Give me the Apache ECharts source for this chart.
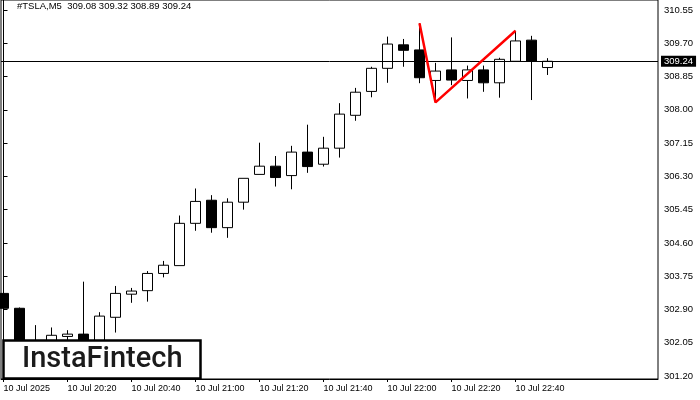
<!DOCTYPE html>
<html><head><meta charset="utf-8">
<script src="https://cdn.jsdelivr.net/npm/echarts@6/dist/echarts.min.js"></script>
<style>html,body{margin:0;padding:0;background:#fff}#c{width:700px;height:400px}</style>
</head><body><div id="c"></div>
<script>
const headerText = '#TSLA,M5  309.08 309.32 308.89 309.24';
const times = ['20:00','20:05','20:10','20:15','20:20','20:25','20:30','20:35','20:40','20:45',
  '20:50','20:55','21:00','21:05','21:10','21:15','21:20','21:25','21:30','21:35',
  '21:40','21:45','21:50','21:55','22:00','22:05','22:10','22:15','22:20','22:25',
  '22:30','22:35','22:40','22:45','22:50'];
const openV  = [303.31,302.93,301.85,302.05,302.21,302.27,301.95,302.70,303.29,303.38,
  303.82,304.02,305.10,305.69,304.99,305.64,306.35,306.56,306.32,306.92,
  306.61,307.02,307.86,308.47,309.06,309.66,309.53,308.75,309.02,308.75,
  309.02,308.69,309.24,309.78,309.08];
const highV  = [303.61,302.95,302.50,302.44,302.37,303.61,302.83,303.50,303.45,303.88,
  304.14,305.30,305.99,305.82,305.74,306.25,307.16,306.82,307.08,307.62,
  307.31,308.17,308.56,309.10,309.87,309.81,310.21,309.20,309.85,309.13,
  309.13,309.33,310.02,309.89,309.32];
const lowV   = [302.37,301.70,301.65,301.95,302.05,301.80,301.85,302.31,303.07,303.10,
  303.72,304.02,304.91,304.86,304.73,305.45,306.35,306.04,305.97,306.39,
  306.55,306.78,307.72,308.32,308.69,309.10,308.68,308.19,308.63,308.29,
  308.46,308.31,309.24,308.25,308.89];
const closeV = [302.93,301.80,301.95,302.24,302.27,301.90,302.73,303.31,303.37,303.82,
  304.03,305.10,305.66,304.99,305.64,306.25,306.56,306.27,306.92,306.55,
  307.02,307.89,308.45,309.06,309.68,309.52,308.82,308.99,308.76,309.02,
  308.69,309.29,309.76,309.24,309.24];
const xTickIdx = [0,4,8,12,16,20,24,28,32];
const xTickLabels = ['10 Jul 2025','10 Jul 20:20','10 Jul 20:40','10 Jul 21:00','10 Jul 21:20',
  '10 Jul 21:40','10 Jul 22:00','10 Jul 22:20','10 Jul 22:40'];
const yTicks = [301.20,302.05,302.90,303.75,304.60,305.45,306.30,307.15,308.00,308.85,309.70,310.55];
const lastPrice = 309.24;
const patternIdx = [26,27,32];
const patternVal = [310.21,308.19,310.02];

const chart = echarts.init(document.getElementById('c'), null, {renderer:'canvas'});
const FONT = 'Liberation Sans';
chart.setOption({
  animation: false,
  backgroundColor: '#fff',
  title: {text: headerText, left: 17, top: 1, padding: 0,
    textStyle: {fontSize: 9.5, fontWeight: 'normal', fontFamily: FONT, color: '#000'}},
  grid: {left: 1, right: 42, top: 0, bottom: 21, show: true, borderColor: '#000', borderWidth: 1, backgroundColor: '#fff'},
  xAxis: {
    type: 'value', min: -0.15625, max: 40.90625,
    axisLine: {show: true, onZero: false, lineStyle: {color: '#000', width: 1}},
    axisTick: {show: true, customValues: xTickIdx, length: 3, lineStyle: {color: '#000'}},
    axisLabel: {customValues: xTickIdx, formatter: v => xTickLabels[xTickIdx.indexOf(Math.round(v))] || '',
      align: 'left', margin: 5, fontSize: 9, fontFamily: FONT, color: '#000'},
    splitLine: {show: false}
  },
  yAxis: {
    type: 'value', position: 'right', min: 301.1233, max: 310.8055,
    axisLine: {show: true, lineStyle: {color: '#000', width: 1}},
    axisTick: {show: true, customValues: yTicks, length: 4, lineStyle: {color: '#000'}},
    axisLabel: {customValues: yTicks, formatter: v => v.toFixed(2), margin: 6,
      fontSize: 9.5, fontFamily: FONT, color: '#000'},
    splitLine: {show: false}
  },
  series: [{
    type: 'candlestick',
    barWidth: 10,
    data: times.map((t, i) => [i, openV[i], closeV[i], lowV[i], highV[i]]),
    itemStyle: {color: '#fff', color0: '#000', borderColor: '#000', borderColor0: '#000', borderWidth: 1},
    markLine: {
      silent: true, symbol: ['none', 'none'],
      data: [{yAxis: lastPrice}],
      lineStyle: {color: '#000', width: 1, type: 'solid'},
      label: {show: true, position: 'end', formatter: lastPrice.toFixed(2), color: '#fff',
        backgroundColor: '#000', padding: [1, 3, 0, 3], fontSize: 9.5, fontFamily: FONT, distance: 3}
    }
  }, {
    type: 'line',
    data: patternIdx.map((x, i) => [x, patternVal[i]]),
    symbol: 'none', z: 5,
    lineStyle: {color: '#ff0000', width: 2.5}
  }],
  graphic: [
    {type: 'rect', z: 100, shape: {x: 3.5, y: 340.5, width: 197, height: 38},
      style: {fill: '#fff', stroke: '#000', lineWidth: 2.5}},
    {type: 'text', z: 101, x: 22, y: 360,
      style: {text: 'InstaFintech', font: '500 29px Roboto', fill: '#1b1b1b', verticalAlign: 'middle'}}
  ]
});
</script></body></html>
